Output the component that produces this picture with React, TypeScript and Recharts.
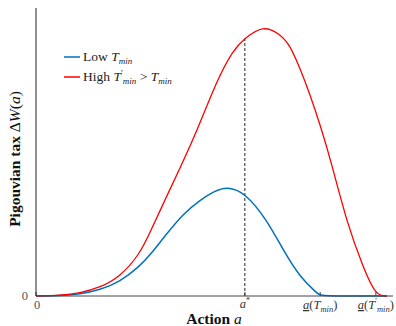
import React from "react";
import { LineChart, Line, XAxis, YAxis, ReferenceLine, Label } from "recharts";

// values (x: action, y: tax), axis units 0..10
const blueX = [0, 0.67, 1.23, 1.79, 2.35, 2.91, 3.19, 3.61, 4.12, 4.59, 5.01, 5.35, 5.85, 6.47, 6.92, 7.39, 7.87, 7.96, 8.8, 9.83];
const blueY = [0, 0.014, 0.06, 0.21, 0.49, 1.04, 1.42, 2.08, 2.85, 3.33, 3.65, 3.8, 3.6, 2.64, 1.6, 0.66, 0.1, 0, 0, 0];
const redX = [0, 0.67, 1.23, 1.79, 2.35, 2.91, 3.19, 3.61, 4.01, 4.51, 5.07, 5.52, 5.85, 6.36, 6.83, 7.11, 7.39, 7.68, 7.96, 8.24, 8.71, 9.16, 9.52, 9.83];
const redY = [0, 0.02, 0.094, 0.295, 0.66, 1.46, 2.2, 3.33, 4.38, 5.73, 7.5, 8.54, 8.95, 9.4, 9.1, 8.72, 7.92, 6.98, 5.94, 4.79, 2.53, 1.01, 0, 0];

const aStar = 5.85;
const aLow = 7.96;
const aHigh = 9.52;
const xTicks = [0, aStar, aLow, aHigh];

const blueData = blueX.map((x, i) => ({ x, y: blueY[i] }));
const redData = redX.map((x, i) => ({ x, y: redY[i] }));
const redAtStar = redY[redX.indexOf(aStar)];

const FONT = "'Liberation Serif', serif";
const BLUE = "#0072BD";
const RED = "#FF0000";

function XTick(props: any) {
  const { x, payload } = props;
  const v = payload.value;
  const base = 309;
  if (v === 0) {
    return (
      <text x={x + 1} y={base} textAnchor="middle" fontFamily={FONT} fontSize={12.5} fill="#555">0</text>
    );
  }
  if (v === aStar) {
    return (
      <text x={x} y={base - 1} textAnchor="middle" fontFamily={FONT} fontSize={12.5} fill="#333">
        <tspan fontStyle="italic">a</tspan>
        <tspan fontSize={8} dy={-5}>*</tspan>
      </text>
    );
  }
  const prime = v === aHigh;
  return (
    <text x={x} y={base} textAnchor="middle" fontFamily={FONT} fontSize={12.5} fill="#333">
      <tspan fontStyle="italic" textDecoration="underline">a</tspan>
      <tspan>(</tspan>
      <tspan fontStyle="italic">T</tspan>
      {prime ? <tspan fontSize={8} dy={-5}>′</tspan> : null}
      <tspan fontStyle="italic" fontSize={8.5} dy={prime ? 8 : 3}>min</tspan>
      <tspan dy={-3}>)</tspan>
    </text>
  );
}

function LegendBox() {
  const rows = [
    { color: BLUE, prime: false },
    { color: RED, prime: true },
  ];
  return (
    <svg width={150} height={44} style={{ position: "absolute", left: 62, top: 48 }}>
      {rows.map((r, i) => (
        <g key={i}>
          <line x1={2} x2={18} y1={9 + i * 20} y2={9 + i * 20} stroke={r.color} strokeWidth={1.5} />
          <text x={21} y={13 + i * 20} fontFamily={FONT} fontSize={13.5} fill="#222">
            {r.prime ? "High " : "Low "}
            <tspan fontStyle="italic">T</tspan>
            {r.prime ? <tspan fontSize={9} dy={-5}>′</tspan> : null}
            <tspan fontStyle="italic" fontSize={9} dy={r.prime ? 8 : 3}>min</tspan>
            {r.prime ? (
              <>
                <tspan dy={-3}>{" > "}</tspan>
                <tspan fontStyle="italic">T</tspan>
                <tspan fontStyle="italic" fontSize={9} dy={3}>min</tspan>
              </>
            ) : null}
          </text>
        </g>
      ))}
    </svg>
  );
}

function YLabel() {
  const cx = 20;
  const cy = 159;
  return (
    <text x={cx} y={cy} transform={`rotate(-90 ${cx} ${cy})`} textAnchor="middle" fontFamily={FONT} fontSize={15.5} fill="#111">
      <tspan fontWeight="bold">Pigouvian tax </tspan>
      <tspan>Δ</tspan>
      <tspan fontStyle="italic">W</tspan>
      <tspan>(</tspan>
      <tspan fontStyle="italic">a</tspan>
      <tspan>)</tspan>
    </text>
  );
}

function XLabel() {
  return (
    <text x={214} y={324} textAnchor="middle" fontFamily={FONT} fontSize={15.5} fill="#111">
      <tspan fontWeight="bold">Action </tspan>
      <tspan fontStyle="italic">a</tspan>
    </text>
  );
}

export default function App() {
  return (
    <div style={{ position: "absolute", left: 0, top: 0, width: 396, height: 326, background: "#fff" }}>
      <LineChart width={396} height={326} margin={{ top: 8, right: 3, left: 0, bottom: 0 }}>
        <XAxis
          dataKey="x"
          type="number"
          domain={[0, 10]}
          ticks={xTicks}
          tick={<XTick />}
          tickSize={-4}
          tickMargin={8}
          stroke="#444"
          height={30}
          allowDuplicatedCategory={false}
        >
          <Label content={<XLabel />} />
        </XAxis>
        <YAxis
          type="number"
          domain={[0, 10]}
          ticks={[0]}
          tickLine={false}
          width={36}
          stroke="#222"
          tick={{ fontFamily: FONT, fontSize: 12.5, fill: "#555" }}
          tickMargin={2}
        >
          <Label content={<YLabel />} />
        </YAxis>
        <ReferenceLine
          segment={[{ x: aStar, y: 0 }, { x: aStar, y: redAtStar }]}
          stroke="#222"
          strokeDasharray="3 2"
          strokeWidth={1}
        />
        <Line data={blueData} dataKey="y" type="basis" stroke={BLUE} strokeWidth={1.5} dot={false} isAnimationActive={false} />
        <Line data={redData} dataKey="y" type="basis" stroke={RED} strokeWidth={1.3} dot={false} isAnimationActive={false} />
      </LineChart>
      <LegendBox />
    </div>
  );
}
